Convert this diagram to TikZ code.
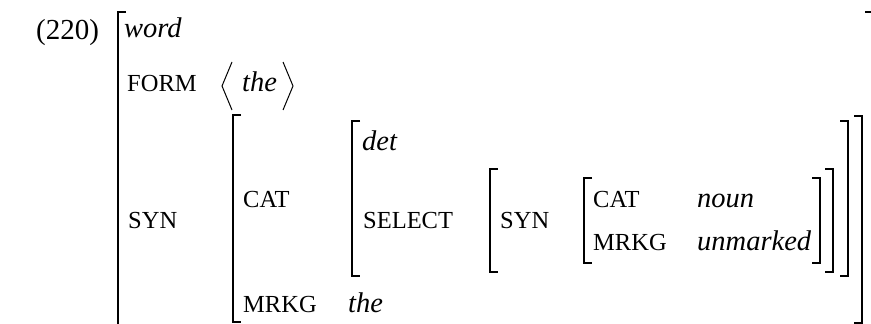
\documentclass[tikz,border=0pt]{standalone}
\usepackage{fontspec}
\setmainfont{Liberation Serif}
\begin{document}
\begin{tikzpicture}[x=1pt,y=-1pt,
  attr/.style={anchor=base west,inner sep=0pt,font=\fontsize{24.5}{28}\selectfont},
  val/.style={anchor=base west,inner sep=0pt,font=\fontsize{28.5}{32}\selectfont\itshape},
  plain/.style={anchor=base west,inner sep=0pt,font=\fontsize{29}{34}\selectfont},
  brk/.style={line width=1.8pt},
  ang/.style={line width=1pt}]
\useasboundingbox (0,0) rectangle (871,324);
% labels
\node[plain] (num) at (36,39) {(220)};
\node[val] (word) at (124,37) {word};
\node[attr] (form) at (127,91) {FORM};
\node[val] (formv) at (242,91) {the};
\node[attr] (syn) at (128,228) {SYN};
\node[attr] (cat) at (243,207) {CAT};
\node[attr] (mrkg) at (243,312) {MRKG};
\node[val] (mrkgv) at (348,312) {the};
\node[val] (det) at (362,150) {det};
\node[attr] (select) at (363,228) {SELECT};
\node[attr] (syn2) at (500,228) {SYN};
\node[attr] (cat2) at (593,207) {CAT};
\node[val] (noun) at (697,207) {noun};
\node[attr] (mrkg2) at (593,250) {MRKG};
\node[val] (unm) at (697,250) {unmarked};
% angle brackets
\draw[ang] (232,62) -- (222,86) -- (232,110);
\draw[ang] (283,62) -- (293,86) -- (283,110);
% outer AVM
\draw[brk] (126,12) -- (118,12) -- (118,332);
\draw[brk] (865,12) -- (873,12) -- (873,332);
% SYN value AVM
\draw[brk] (241,115) -- (233,115) -- (233,322) -- (241,322);
\draw[brk] (854,116) -- (862,116) -- (862,323) -- (854,323);
% det AVM
\draw[brk] (360,121) -- (352,121) -- (352,276) -- (360,276);
\draw[brk] (840,121) -- (848,121) -- (848,276) -- (840,276);
% SYN AVM
\draw[brk] (498,169) -- (490,169) -- (490,272) -- (498,272);
\draw[brk] (825,169) -- (833,169) -- (833,272) -- (825,272);
% inner AVM
\draw[brk] (592,178) -- (584,178) -- (584,263) -- (592,263);
\draw[brk] (812,178) -- (820,178) -- (820,263) -- (812,263);
\end{tikzpicture}
\end{document}
